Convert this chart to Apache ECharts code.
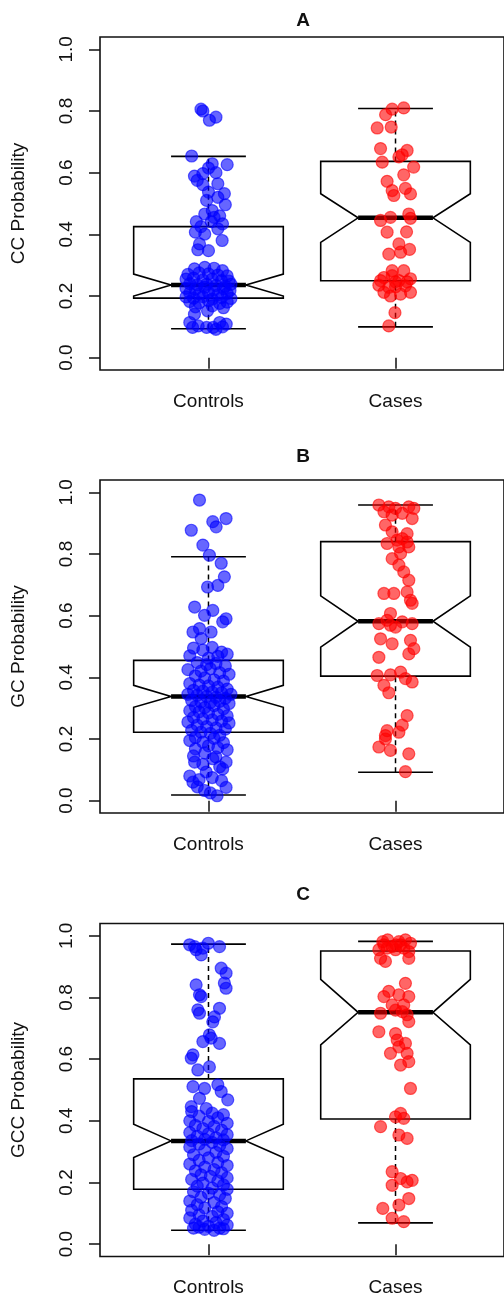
<!DOCTYPE html>
<html>
<head>
<meta charset="utf-8">
<script src="https://cdn.jsdelivr.net/npm/echarts@6/dist/echarts.min.js"></script>
<style>
  html, body { margin: 0; padding: 0; background: #fff; }
  #main { width: 504px; height: 1305px; }
</style>
</head>
<body>
<div id="main"></div>
<script>
// groups and axis ticks
var groups = ['Controls', 'Cases'];
var yTicks = [0, 0.2, 0.4, 0.6, 0.8, 1.0];
var panelTitles = ['A', 'B', 'C'];
var yNames = ['CC Probability', 'GC Probability', 'GCC Probability'];

// box stats: [lowWhisker, Q1, notchLow, median, notchHigh, Q3, highWhisker]
var aCtrlBox = [0.094, 0.193, 0.200, 0.2355, 0.271, 0.425, 0.653];
var aCaseBox = [0.100, 0.2495, 0.374, 0.4535, 0.5315, 0.6366, 0.808];
var bCtrlBox = [0.0185, 0.222, 0.303, 0.338, 0.374, 0.455, 0.791];
var bCaseBox = [0.092, 0.404, 0.498, 0.582, 0.664, 0.840, 0.959];
var cCtrlBox = [0.045, 0.178, 0.281, 0.335, 0.389, 0.536, 0.973];
var cCaseBox = [0.069, 0.406, 0.646, 0.752, 0.859, 0.951, 0.982];

// points: [jitter offset from group position, value]
var aControls = [
  [-0.04,0.806],[-0.03,0.80],[0.04,0.78],[0.005,0.77],
  [-0.09,0.654],[0.02,0.629],[0.10,0.626],[-0.03,0.597],[-0.075,0.589],[0.04,0.600],[0.0,0.615],
  [-0.03,0.561],[0.05,0.564],[-0.06,0.575],[0.0,0.537],[0.085,0.532],[-0.01,0.51],[0.09,0.496],[0.05,0.52],
  [0.02,0.477],[-0.02,0.466],[-0.065,0.441],[0.015,0.441],[0.075,0.434],[0.05,0.418],[-0.07,0.407],
  [-0.02,0.401],[0.073,0.38],[-0.048,0.369],[-0.057,0.350],[0.0,0.347],[0.03,0.455],[-0.04,0.425],[0.06,0.46],
  [-0.075,0.288],[-0.02,0.293],[0.03,0.29],[0.075,0.282],
  [-0.11,0.27],[-0.05,0.275],[0.0,0.272],[0.05,0.268],[0.10,0.265],
  [-0.12,0.255],[-0.08,0.258],[-0.03,0.252],[0.02,0.255],[0.07,0.25],[0.11,0.248],
  [-0.10,0.24],[-0.06,0.236],[-0.01,0.238],[0.04,0.234],[0.09,0.232],[0.12,0.238],
  [-0.12,0.225],[-0.07,0.222],[-0.02,0.228],[0.03,0.22],[0.08,0.224],[0.115,0.218],
  [-0.10,0.21],[-0.05,0.206],[0.0,0.212],[0.05,0.204],[0.10,0.208],
  [-0.12,0.197],[-0.08,0.193],[-0.03,0.198],[0.02,0.19],[0.07,0.195],[0.12,0.192],
  [-0.10,0.182],[-0.05,0.178],[0.0,0.185],[0.06,0.176],[0.10,0.18],
  [-0.07,0.165],[0.02,0.168],[0.08,0.162],
  [-0.075,0.141],[-0.005,0.152],[-0.10,0.114],[-0.055,0.103],[-0.01,0.098],[0.025,0.098],
  [0.06,0.114],[0.095,0.109],[-0.085,0.098],[0.04,0.092],[0.075,0.10]
];
var aCases = [
  [0.044,0.81],[-0.018,0.806],[-0.053,0.788],[-0.098,0.745],[-0.023,0.748],
  [-0.08,0.678],[0.062,0.672],[-0.071,0.634],[0.018,0.651],[0.036,0.658],[0.097,0.618],
  [0.044,0.593],[-0.045,0.572],[-0.018,0.542],[-0.009,0.526],[0.053,0.549],[0.08,0.531],
  [-0.08,0.445],[-0.027,0.455],[0.071,0.466],[0.08,0.452],[-0.045,0.407],[0.059,0.408],
  [0.018,0.369],[-0.036,0.336],[0.027,0.342],[0.075,0.351],
  [-0.018,0.282],[-0.062,0.26],[0.044,0.282],[0.08,0.256],[-0.089,0.235],[0.0,0.246],
  [-0.036,0.228],[0.053,0.233],[-0.062,0.212],[0.027,0.206],[0.08,0.212],[-0.018,0.266],
  [0.018,0.25],[-0.027,0.2],[-0.08,0.25],[0.062,0.246],[0.0,0.23],
  [-0.003,0.146],[-0.036,0.103]
];
var bControls = [
  [-0.048,0.975],[0.023,0.905],[0.094,0.915],[0.041,0.888],[-0.092,0.877],[-0.03,0.829],
  [0.005,0.796],[0.068,0.77],[0.085,0.726],[-0.005,0.693],[0.05,0.698],[-0.074,0.628],
  [0.023,0.617],[-0.021,0.601],[0.094,0.59],[0.076,0.58],[-0.083,0.547],[-0.039,0.526],
  [0.014,0.547],[-0.048,0.558],
  [-0.08,0.495],[-0.03,0.488],[0.02,0.497],[0.07,0.482],[-0.10,0.47],[0.0,0.462],[0.05,0.468],[0.10,0.475],
  [-0.06,0.448],[-0.01,0.441],[0.04,0.445],[0.09,0.437],[-0.11,0.425],[-0.04,0.42],[0.01,0.428],
  [0.06,0.415],[0.11,0.41],[-0.07,0.405],
  [-0.02,0.398],[0.03,0.392],[0.08,0.388],[-0.10,0.38],[-0.05,0.375],[0.0,0.372],[0.05,0.368],
  [0.10,0.362],[-0.08,0.358],[-0.03,0.355],[0.02,0.352],[0.07,0.35],
  [-0.11,0.345],[-0.06,0.342],[-0.01,0.338],[0.04,0.335],[0.09,0.332],[0.12,0.345],[-0.09,0.325],
  [-0.04,0.32],[0.01,0.318],[0.06,0.322],[0.11,0.315],[-0.07,0.305],[-0.02,0.302],[0.03,0.308],
  [0.08,0.298],[-0.10,0.292],[-0.05,0.288],[0.0,0.285],[0.05,0.28],[0.10,0.275],[-0.08,0.27],
  [-0.03,0.265],[0.02,0.262],[0.07,0.258],[-0.11,0.255],[0.11,0.252],
  [-0.06,0.245],[-0.01,0.24],[0.04,0.236],[0.09,0.232],[-0.09,0.228],[-0.04,0.222],[0.01,0.218],
  [0.06,0.212],[-0.07,0.205],[0.03,0.202],
  [-0.1,0.195],[-0.03,0.19],[0.08,0.188],[0.0,0.178],[0.05,0.172],[-0.07,0.168],[0.10,0.165],[-0.02,0.155],
  [-0.08,0.145],[0.04,0.142],[0.023,0.136],[-0.074,0.125],[0.094,0.125],[-0.03,0.118],[0.06,0.11],[0.076,0.103],
  [-0.012,0.093],[-0.1,0.08],[0.02,0.075],[-0.05,0.068],[-0.083,0.06],[0.07,0.065],
  [-0.021,0.033],[0.046,0.016],[0.094,0.043],[-0.06,0.045],[0.01,0.025]
];
var bCases = [
  [-0.089,0.959],[-0.036,0.953],[0.0,0.948],[0.071,0.953],[0.098,0.948],[-0.062,0.937],
  [0.036,0.932],[0.089,0.915],[-0.054,0.894],[-0.018,0.926],
  [-0.018,0.872],[0.062,0.866],
  [-0.045,0.834],[0.0085,0.845],[0.036,0.85],[0.062,0.839],[0.071,0.823],[0.018,0.823],
  [-0.018,0.785],[0.027,0.802],[0.018,0.764],[0.044,0.742],[0.071,0.715],
  [-0.062,0.672],[-0.009,0.672],[0.062,0.677],[0.08,0.65],[0.089,0.64],
  [-0.027,0.607],[-0.089,0.574],[-0.045,0.585],[0.0,0.563],[0.036,0.58],[0.089,0.574],[-0.027,0.569],
  [-0.08,0.525],[-0.018,0.509],[0.08,0.52],[0.098,0.493],[-0.089,0.465],[0.071,0.476],
  [-0.098,0.406],[-0.027,0.408],[0.027,0.417],[0.089,0.385],[-0.062,0.374],[-0.036,0.35],[0.053,0.396],
  [0.062,0.276],[0.036,0.245],[0.018,0.222],[-0.045,0.227],[-0.054,0.2],[-0.089,0.174],
  [-0.027,0.163],[0.071,0.152],[0.053,0.094],[-0.054,0.211]
];
var cControls = [
  [-0.101,0.971],[-0.066,0.955],[-0.039,0.938],[-0.001,0.976],[0.059,0.965],[-0.074,0.965],[-0.03,0.96],
  [0.068,0.895],[0.094,0.879],[0.085,0.847],[0.094,0.83],
  [-0.066,0.841],[-0.048,0.809],[-0.039,0.803],
  [-0.057,0.76],[-0.048,0.749],[0.059,0.765],[0.023,0.721],[0.032,0.737],
  [0.005,0.679],[-0.03,0.657],[0.059,0.651],[0.014,0.668],
  [-0.083,0.614],[-0.092,0.603],[-0.057,0.565],[0.005,0.575],
  [-0.083,0.511],[0.05,0.517],[0.068,0.495],[0.103,0.468],[-0.021,0.505],[-0.048,0.473],[-0.092,0.446],[-0.012,0.44],
  [-0.09,0.43],[0.02,0.425],[0.08,0.42],[-0.05,0.415],[0.05,0.41],[-0.1,0.4],[0.0,0.398],[0.1,0.392],
  [-0.07,0.385],[0.03,0.382],[-0.03,0.375],[0.07,0.37],[-0.1,0.362],[0.0,0.358],[0.1,0.355],
  [-0.06,0.35],[0.04,0.345],[-0.02,0.34],[0.08,0.338],[-0.09,0.336],
  [0.02,0.33],[-0.05,0.325],[0.06,0.32],[-0.1,0.315],[0.1,0.31],[-0.02,0.305],[0.04,0.298],
  [-0.08,0.29],[0.08,0.285],[0.0,0.28],[-0.05,0.272],[0.05,0.265],[-0.1,0.26],[0.1,0.255],
  [-0.02,0.25],[0.03,0.242],[-0.07,0.238],[0.07,0.232],[-0.04,0.225],[0.01,0.22],[0.1,0.215],
  [-0.09,0.21],[0.05,0.205],[-0.03,0.198],[0.08,0.192],[-0.06,0.188],[0.02,0.182],[0.1,0.178],
  [-0.08,0.17],[0.0,0.165],[0.06,0.16],[-0.04,0.152],[0.09,0.148],[-0.1,0.14],[0.03,0.135],
  [-0.06,0.128],[0.07,0.122],[-0.02,0.118],[-0.09,0.11],[0.05,0.105],[0.1,0.1],[-0.05,0.095],
  [0.02,0.09],[-0.1,0.085],[0.08,0.08],[-0.03,0.075],[0.04,0.07],[-0.07,0.065],[0.1,0.062],
  [0.0,0.058],[-0.05,0.055],[0.06,0.052],[-0.02,0.048],[0.03,0.045],[0.08,0.05],[-0.08,0.052]
];
var cCases = [
  [-0.068,0.981],[-0.042,0.987],[0.003,0.971],[0.018,0.981],[0.053,0.987],[0.08,0.976],
  [-0.089,0.955],[-0.045,0.96],[0.0,0.955],[0.044,0.96],[0.071,0.949],[-0.08,0.927],
  [-0.054,0.917],[0.071,0.927],[-0.018,0.965],[0.027,0.971],[-0.062,0.971],
  [0.053,0.846],[-0.036,0.82],[0.018,0.809],[0.071,0.803],[-0.062,0.803],[-0.018,0.776],[0.044,0.776],
  [-0.08,0.749],[0.062,0.744],[0.071,0.722],[0.0,0.759],[0.036,0.754],
  [-0.089,0.689],[0.0,0.683],[0.009,0.662],[0.053,0.651],[0.018,0.64],[-0.027,0.619],
  [0.062,0.619],[0.071,0.592],[0.027,0.581],
  [0.08,0.505],
  [0.027,0.424],[0.044,0.408],[0.0,0.413],[-0.08,0.381],[0.018,0.354],[0.062,0.343],
  [-0.018,0.235],[0.027,0.213],[0.062,0.202],[0.089,0.207],[-0.018,0.191],[0.071,0.148],
  [0.018,0.127],[-0.068,0.116],[-0.018,0.084],[0.044,0.073]
];

var panelPoints = [[aControls, aCases], [bControls, bCases], [cControls, cCases]];
var panelBoxes = [[aCtrlBox, aCaseBox], [bCtrlBox, bCaseBox], [cCtrlBox, cCaseBox]];

var FONT = '"Liberation Sans", Arial, Helvetica, sans-serif';
var gridTops = [37, 480, 923.5];
var gridH = 333;
var titleY = [21, 457, 895];
var colors = ['rgba(0,0,255,0.6)', 'rgba(255,0,0,0.6)'];

var myChart = echarts.init(document.getElementById('main'), null, {renderer: 'canvas'});

var grids = [], xAxes = [], yAxes = [], series = [], graphics = [];

function renderBox(params, api) {
    var x = api.value(0);
    var lo = api.value(1), q1 = api.value(2), nlo = api.value(3), md = api.value(4),
        nhi = api.value(5), q3 = api.value(6), hi = api.value(7);
    var hw = 0.4, nw = 0.2, cw = 0.2;
    var P = function (a, b) { return api.coord([a, b]); };
    var line = {stroke: '#000', lineWidth: 1.6, fill: null};
    var dash = {stroke: '#000', lineWidth: 1.5, lineDash: [5, 4]};
    return {
        type: 'group',
        children: [
            {type: 'line', shape: {x1: P(x, q3)[0], y1: P(x, q3)[1], x2: P(x, hi)[0], y2: P(x, hi)[1]}, style: dash},
            {type: 'line', shape: {x1: P(x, lo)[0], y1: P(x, lo)[1], x2: P(x, q1)[0], y2: P(x, q1)[1]}, style: dash},
            {type: 'line', shape: {x1: P(x - cw, hi)[0], y1: P(x - cw, hi)[1], x2: P(x + cw, hi)[0], y2: P(x + cw, hi)[1]}, style: line},
            {type: 'line', shape: {x1: P(x - cw, lo)[0], y1: P(x - cw, lo)[1], x2: P(x + cw, lo)[0], y2: P(x + cw, lo)[1]}, style: line},
            {type: 'polygon', shape: {points: [
                P(x - hw, q1), P(x - hw, nlo), P(x - nw, md), P(x - hw, nhi), P(x - hw, q3),
                P(x + hw, q3), P(x + hw, nhi), P(x + nw, md), P(x + hw, nlo), P(x + hw, q1)
            ]}, style: {stroke: '#000', lineWidth: 1.6, fill: 'rgba(255,255,255,0)', lineJoin: 'miter'}},
            {type: 'line', shape: {x1: P(x - nw, md)[0], y1: P(x - nw, md)[1], x2: P(x + nw, md)[0], y2: P(x + nw, md)[1]}, style: {stroke: '#000', lineWidth: 4.5}}
        ]
    };
}

for (var p = 0; p < 3; p++) {
    grids.push({left: 100, top: gridTops[p], height: gridH, right: -2, show: true,
        borderColor: '#111', borderWidth: 1.6, backgroundColor: 'transparent'});
    xAxes.push({
        type: 'value', gridIndex: p, min: 0.42, max: 2.58,
        axisLine: {show: false}, splitLine: {show: false},
        axisTick: {show: true, length: 11, customValues: [1, 2], lineStyle: {color: '#111', width: 1.5}},
        axisLabel: {customValues: [1, 2], margin: 22, color: '#111', fontSize: 19, fontFamily: FONT,
            formatter: function (v) { return groups[Math.round(v) - 1]; }}
    });
    yAxes.push({
        type: 'value', gridIndex: p, min: -0.04, max: 1.04,
        name: yNames[p], nameLocation: 'middle', nameGap: 72, nameRotate: 90,
        nameTextStyle: {fontSize: 19, color: '#111', fontFamily: FONT},
        axisLine: {show: false}, splitLine: {show: false},
        axisTick: {show: true, length: 11, customValues: yTicks, lineStyle: {color: '#111', width: 1.5}},
        axisLabel: {customValues: yTicks, rotate: 90, margin: 24, color: '#111', fontSize: 19, fontFamily: FONT,
            formatter: function (v) { return v.toFixed(1); }}
    });
    var boxData = panelBoxes[p].map(function (b, i) { return [i + 1].concat(b); });
    series.push({
        type: 'custom', xAxisIndex: p, yAxisIndex: p, z: 1, silent: true,
        renderItem: renderBox,
        encode: {x: 0, y: [1, 2, 3, 4, 5, 6, 7]},
        data: boxData
    });
    for (var g = 0; g < 2; g++) {
        series.push({
            type: 'scatter', xAxisIndex: p, yAxisIndex: p, z: 3, silent: true,
            symbolSize: 12,
            itemStyle: {color: colors[g], borderColor: colors[g], borderWidth: 1.2, opacity: 1},
            data: panelPoints[p][g].map(function (d) { return [g + 1 + d[0], d[1]]; })
        });
    }
    graphics.push({
        type: 'text', x: 303, y: titleY[p],
        style: {text: panelTitles[p], fontSize: 19, fontWeight: 'bold', fontFamily: FONT,
            fill: '#111', align: 'center', verticalAlign: 'middle'}
    });
}

var option = {
    backgroundColor: '#fff',
    animation: false,
    grid: grids,
    xAxis: xAxes,
    yAxis: yAxes,
    series: series,
    graphic: graphics
};
myChart.setOption(option);
</script>
</body>
</html>
